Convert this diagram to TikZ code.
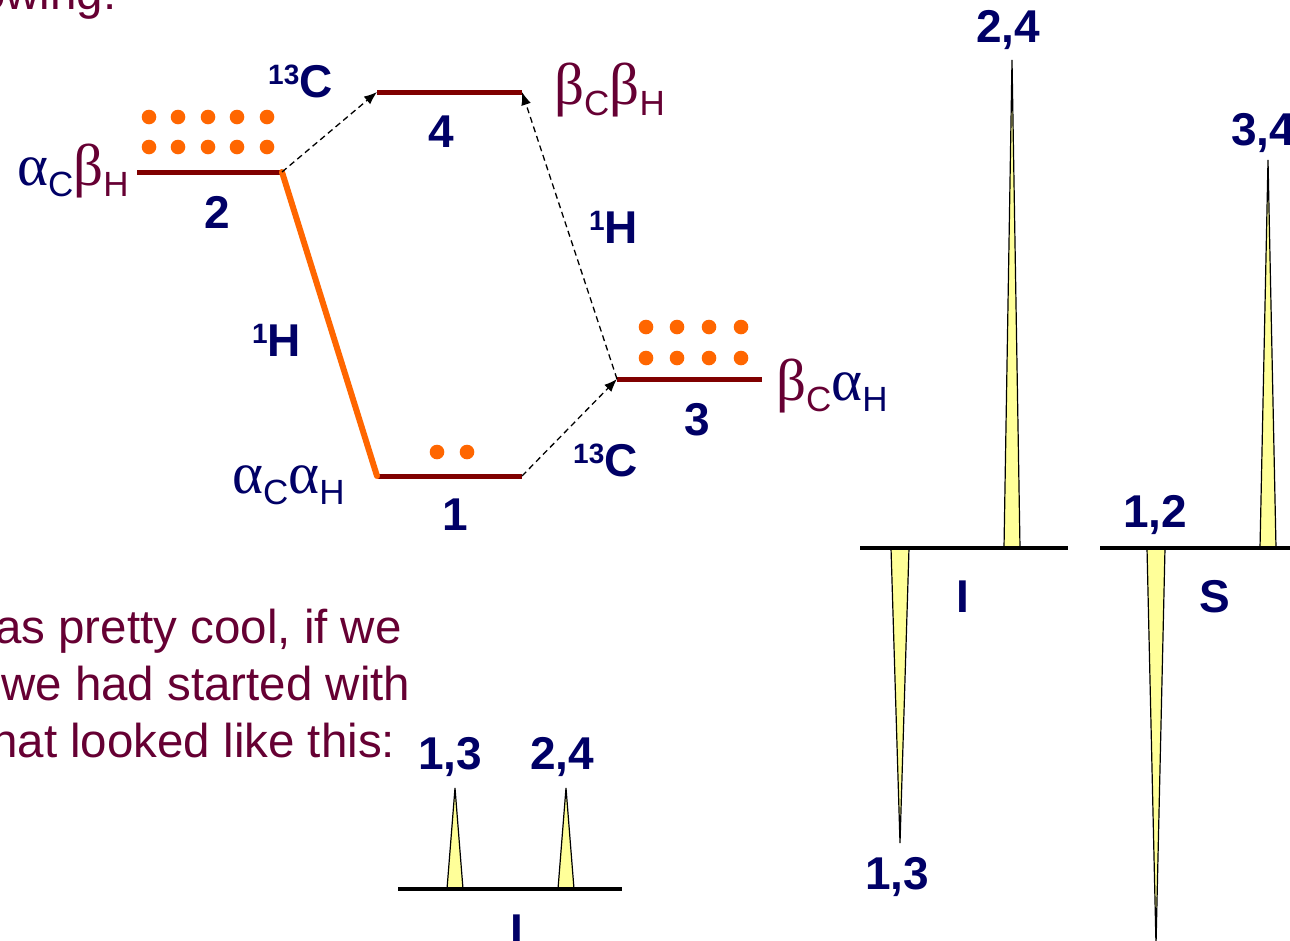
\documentclass[tikz,border=0pt]{standalone}
\usepackage{fontspec}
\setmainfont{Liberation Sans}
\newfontfamily\grk{Liberation Serif}
\usetikzlibrary{arrows.meta}
\definecolor{navy}{RGB}{0,0,102}
\definecolor{plum}{RGB}{102,0,51}
\definecolor{levelred}{RGB}{128,0,0}
\definecolor{dotorange}{RGB}{255,102,0}
\definecolor{peakyellow}{RGB}{255,255,153}
\newcommand{\gl}[3]{{\color{#3}{\grk\fontsize{59}{59}\selectfont #1}{\fontsize{35}{35}\selectfont\raisebox{-11pt}{#2}}}}
\newcommand{\iso}[2]{{\fontsize{28}{28}\selectfont\raisebox{13pt}{#1}}#2}
\tikzset{
  lvl/.style={draw=levelred, line width=5pt},
  dotc/.style={fill=dotorange},
  trans/.style={draw=black, line width=1.3pt, dash pattern=on 6pt off 4pt, -{Latex[length=13pt,width=10pt]}},
  hop/.style={draw=dotorange, line width=6pt},
  num/.style={inner sep=0pt, text=navy, font=\bfseries\fontsize{46}{46}\selectfont},
  nuc/.style={inner sep=0pt, anchor=base west, text=navy, font=\bfseries\fontsize{46}{46}\selectfont},
  glab/.style={inner sep=0pt, anchor=base west},
  para/.style={inner sep=0pt, anchor=base west, text=plum, font=\fontsize{47.5}{47.5}\selectfont},
  peak/.style={draw=black, line width=1.2pt, fill=peakyellow, line join=miter},
  axis/.style={draw=black, line width=4pt}
}
\begin{document}
\begin{tikzpicture}[x=1pt,y=-1pt]
\useasboundingbox (0,0) rectangle (1290,940);
% energy levels
\coordinate (l2a) at (137,172); \coordinate (l2b) at (282,172);
\coordinate (l4a) at (377,92);  \coordinate (l4b) at (522,92);
\coordinate (l1a) at (377,476); \coordinate (l1b) at (522,476);
\coordinate (l3a) at (617,379); \coordinate (l3b) at (762,379);
\draw[lvl] (l2a) -- (l2b);
\draw[lvl] (l4a) -- (l4b);
\draw[lvl] (l1a) -- (l1b);
\draw[lvl] (l3a) -- (l3b);
% transitions
\draw[hop, line cap=round] (l2b) -- (l1a);
\draw[trans] (l2b) -- (l4a);
\draw[trans] (l1b) -- (l3a);
\draw[trans] (l3a) -- (l4b);
% populations
\foreach \x in {149,178,208,237,267} {
  \fill[dotc] (\x,117) circle (7.3pt);
  \fill[dotc] (\x,147) circle (7.3pt);
}
\foreach \x in {646,677,709,741} {
  \fill[dotc] (\x,327) circle (7.3pt);
  \fill[dotc] (\x,358) circle (7.3pt);
}
\fill[dotc] (437,452) circle (7.3pt);
\fill[dotc] (467,452) circle (7.3pt);
% level numbers
\node[num] (n2) at (217,212) {2};
\node[num] (n4) at (441,132) {4};
\node[num] (n1) at (455,515) {1};
\node[num] (n3) at (697,420) {3};
% state labels
\node[glab] (s2) at (17,185) {\gl{α}{C}{navy}\gl{β}{H}{plum}};
\node[glab] (s4) at (554,104) {\gl{β}{C}{plum}\gl{β}{H}{plum}};
\node[glab] (s1) at (232,493) {\gl{α}{C}{navy}\gl{α}{H}{navy}};
\node[glab] (s3) at (776,400) {\gl{β}{C}{plum}\gl{α}{H}{navy}};
% nucleus labels
\node[nuc] (c13a) at (268,97) {\iso{13}{C}};
\node[nuc] (h1a) at (589,243) {\iso{1}{H}};
\node[nuc] (h1b) at (252,356) {\iso{1}{H}};
\node[nuc] (c13b) at (573,476) {\iso{13}{C}};
% paragraph text
\node[para] (t0) at (-21,9) {owing:};
\node[para] (t1) at (-5,643) {as pretty cool, if we};
\node[para] (t2) at (1,700) {we had started with};
\node[para] (t3) at (-9,757) {hat looked like this:};
% bottom-left spectrum
\draw[peak] (447,889) -- (455,788) -- (463,889) -- cycle;
\draw[peak] (558,889) -- (566,788) -- (574,889) -- cycle;
\coordinate (ba) at (398,889); \coordinate (bb) at (622,889);
\draw[axis] (ba) -- (bb);
\node[num] (p13) at (450,757) {1,3};
\node[num] (p24) at (562,757) {2,4};
\node[num] (pI) at (517,931) {I};
% right spectrum I
\draw[peak] (1004,548) -- (1012,60) -- (1020,548) -- cycle;
\draw[peak] (891,548) -- (900,843) -- (909,548) -- cycle;
\coordinate (ia) at (860,548); \coordinate (ib) at (1068,548);
\draw[axis] (ia) -- (ib);
\node[num] (q24) at (1008,30) {2,4};
\node[num] (q13) at (897,877) {1,3};
\node[num] (qI) at (963,597) {I};
% right spectrum S
\draw[peak] (1260,548) -- (1268,160) -- (1276,548) -- cycle;
\draw[peak] (1147,548) -- (1156,945) -- (1165,548) -- cycle;
\coordinate (sa) at (1100,548); \coordinate (sb) at (1295,548);
\draw[axis] (sa) -- (sb);
\node[num] (r34) at (1263,133) {3,4};
\node[num] (r12) at (1155,515) {1,2};
\node[num] (rS) at (1215,597) {S};
\end{tikzpicture}
\end{document}
